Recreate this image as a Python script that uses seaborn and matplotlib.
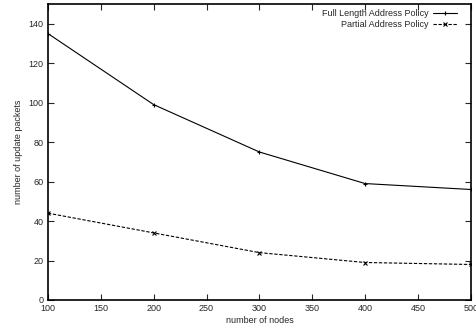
import pandas as pd
import matplotlib
matplotlib.use("Agg")
import matplotlib.pyplot as plt
import seaborn as sns

# data
nodes = [100, 200, 300, 400, 500]
full_length = [135, 99, 75, 59, 56]
partial = [44, 34, 24, 19, 18]
series_names = ["Full Length Address Policy", "Partial Address Policy"]

df = pd.DataFrame({
    "nodes": nodes * 2,
    "packets": full_length + partial,
    "policy": [series_names[0]] * len(nodes) + [series_names[1]] * len(nodes),
})

sns.set_style("ticks")
plt.rcParams["font.family"] = ["Liberation Sans", "DejaVu Sans"]
plt.rcParams["font.size"] = 6.5

fig = plt.figure(figsize=(4.77, 3.32), dpi=100)
ax = fig.add_axes([0.1006, 0.0964, 0.8864, 0.8916])

sns.lineplot(data=df, x="nodes", y="packets", hue="policy", style="policy",
             palette=["black", "black"], dashes=[(None, None), (3, 1.5)],
             markers=["+", "x"], markersize=3.2, markeredgewidth=0.8,
             markeredgecolor="black", linewidth=0.8, ax=ax)

ax.set_xlim(100, 500)
ax.set_ylim(0, 150)
ax.set_xticks(range(100, 501, 50))
ax.set_yticks(range(0, 141, 20))
ax.tick_params(direction="in", length=4, width=0.8, top=True, right=True,
               labelsize=6.5, pad=3)
for s in ax.spines.values():
    s.set_linewidth(1.2)
    s.set_color("black")
ax.set_xlabel("number of nodes", fontsize=6.5, labelpad=2)
ax.set_ylabel("number of update packets", fontsize=6.5, labelpad=4)

leg = ax.legend(loc="upper right", bbox_to_anchor=(0.98, 1.0), frameon=False,
                markerfirst=False, fontsize=6.5, handlelength=2.6,
                labelspacing=0.15, borderaxespad=0.2, handletextpad=0.5)
for h in leg.legend_handles:
    h.set_markeredgecolor("black")

fig.savefig("out.png", dpi=100)
